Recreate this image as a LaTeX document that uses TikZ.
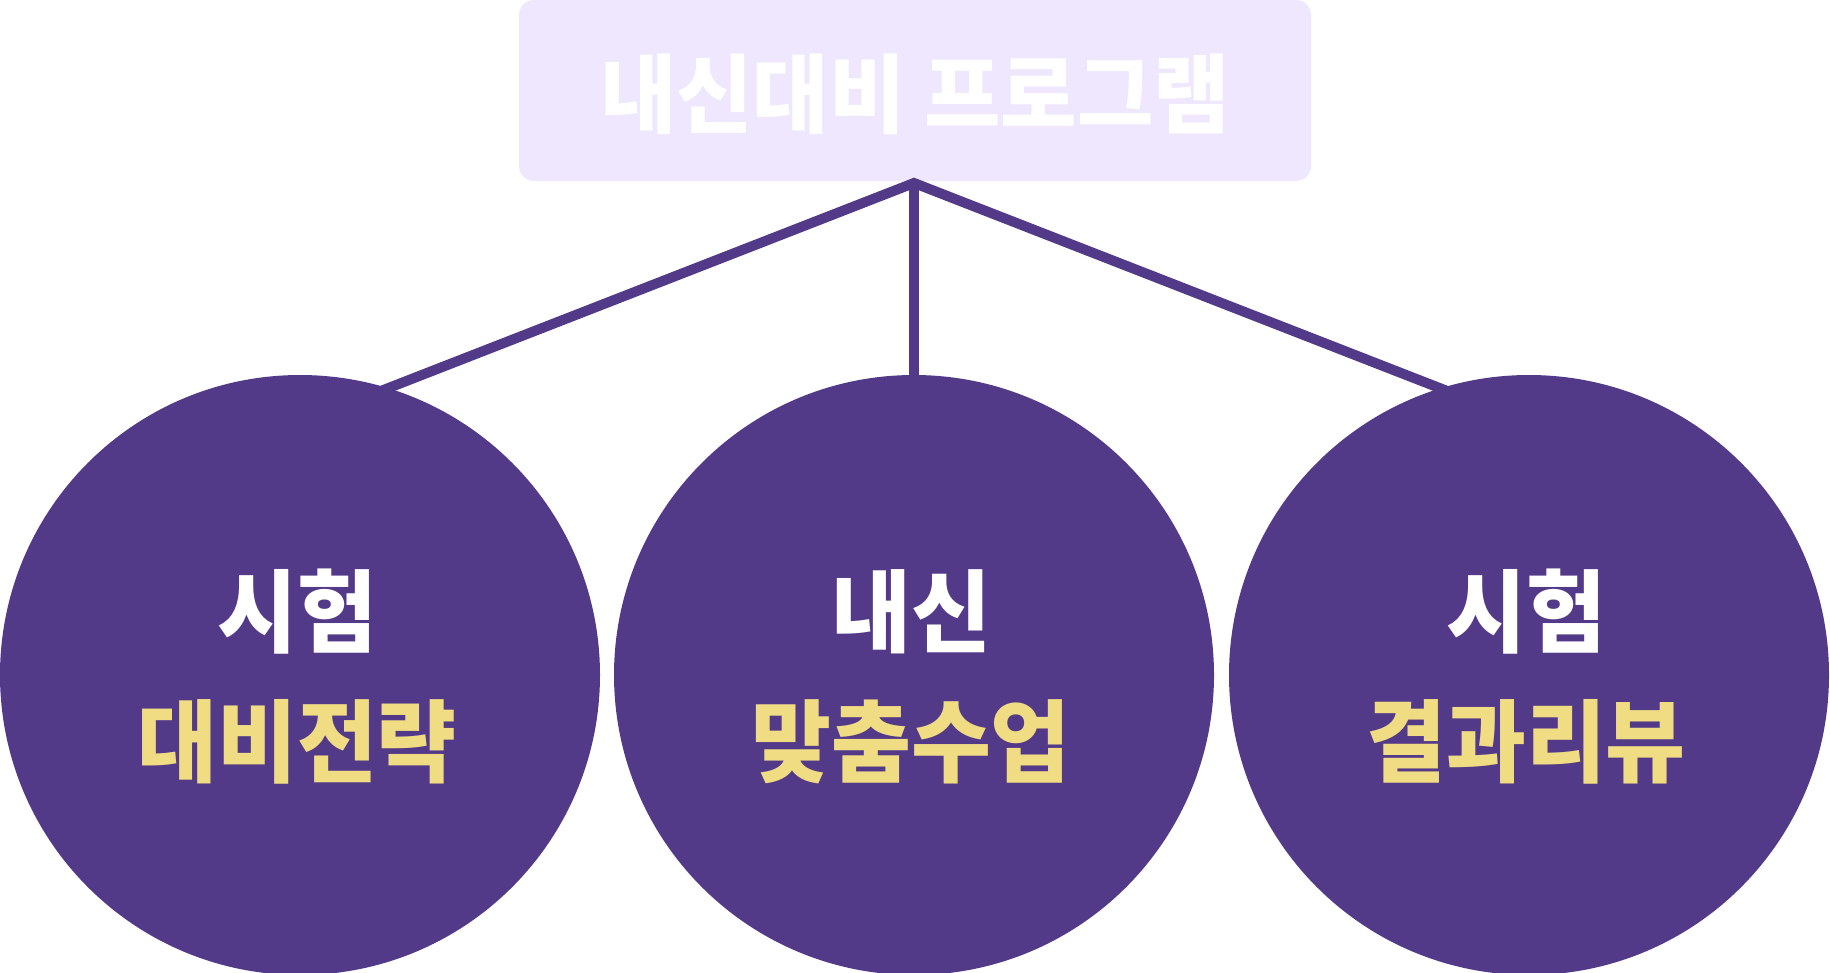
\documentclass[tikz,border=0pt]{standalone}
\usepackage{fontspec}
\newfontfamily\kr{Noto Sans CJK KR}[FakeStretch=0.965]
\definecolor{purp}{HTML}{533A89}
\definecolor{lav}{HTML}{EFE7FD}
\definecolor{ylw}{HTML}{F0DC82}
\tikzset{
  circ/.style={circle, fill=purp, minimum size=600pt, inner sep=0pt},
  lbl/.style={align=center, font=\kr\bfseries\fontsize{90}{130}\selectfont, inner sep=0pt},
  topbox/.style={fill=lav, rounded corners=15pt, minimum width=792pt, minimum height=181pt, inner sep=0pt},
  toptext/.style={inner sep=0pt, text=white, font=\kr\bfseries\fontsize{86}{100}\selectfont},
  conn/.style={draw=purp, line width=10pt, line join=miter}
}
\begin{document}
\begin{tikzpicture}[x=1pt,y=-1pt]
\useasboundingbox (0,0) rectangle (1830,972);
\node[topbox] (top) at (915,90.5) {};
\node[toptext] (toplbl) at ([yshift=-3.5pt]top.center) {내신대비 프로그램};
\coordinate (apex) at (914,183);
\coordinate (lend) at (350,403);
\coordinate (rend) at (1478,403);
\coordinate (mend) at (914,420);
\draw[conn] (lend) -- (apex) -- (rend);
\draw[conn] (apex) -- (mend);
\node[circ] (c1) at (300,675) {};
\node[circ] (c2) at (914,675) {};
\node[circ] (c3) at (1529,675) {};
\node[lbl] (t1) at ([xshift=-3pt,yshift=-2pt]c1.center) {\textcolor{white}{시험}\\\textcolor{ylw}{대비전략}};
\node[lbl] (t2) at ([xshift=-3pt,yshift=-2pt]c2.center) {\textcolor{white}{내신}\\\textcolor{ylw}{맞춤수업}};
\node[lbl] (t3) at ([xshift=-3pt,yshift=-2pt]c3.center) {\textcolor{white}{시험}\\\textcolor{ylw}{결과리뷰}};
\end{tikzpicture}
\end{document}
